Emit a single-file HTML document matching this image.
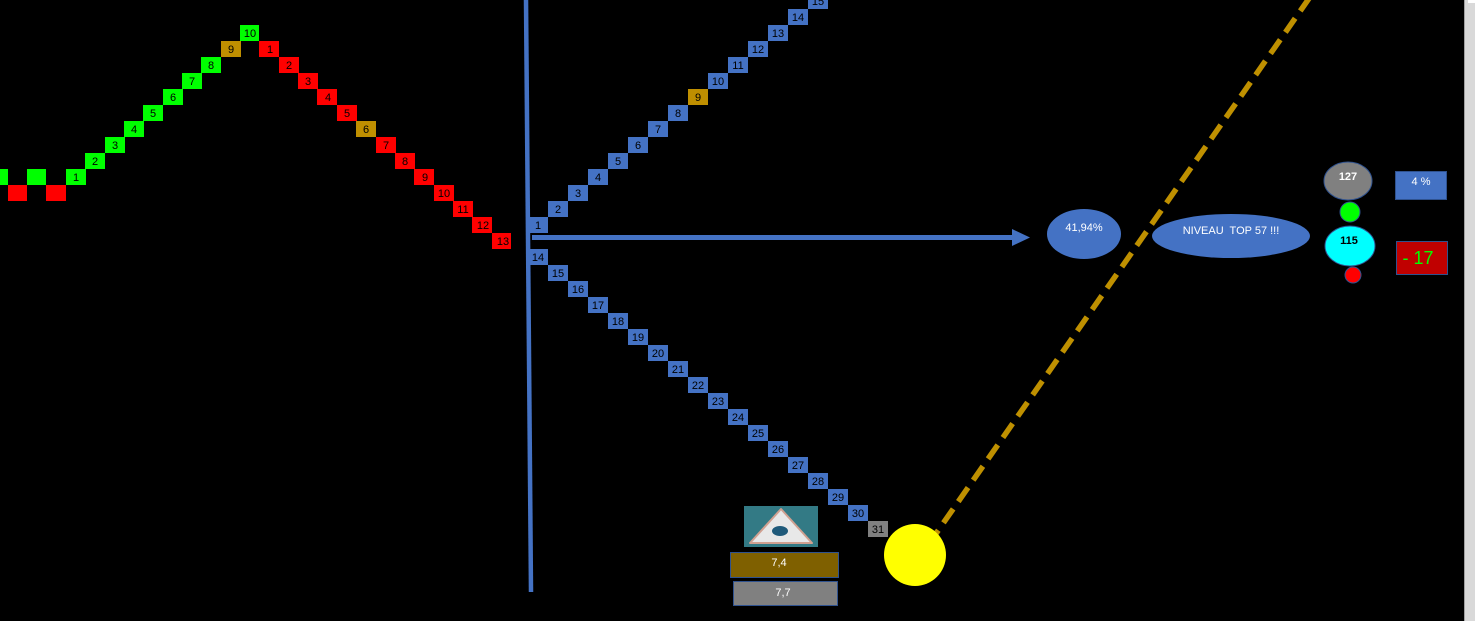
<!DOCTYPE html>
<html><head><meta charset="utf-8"><style>
html,body{margin:0;padding:0;background:#000;width:1475px;height:621px;overflow:hidden}
svg{display:block}
text{font-family:"Liberation Sans",sans-serif;font-size:11px;text-anchor:middle;dominant-baseline:central}
</style></head><body>
<svg width="1475" height="621" viewBox="0 0 1475 621">
<rect width="1475" height="621" fill="#000"/>
<rect x="1464" y="0" width="1" height="621" fill="#a0a0a0"/>
<rect x="1465" y="0" width="10" height="621" fill="#d9d9d9"/>
<rect x="1468" y="0" width="7" height="3" fill="#fff"/>
<rect x="0" y="169" width="8" height="16" fill="#00ff00"/>
<rect x="8" y="185" width="19" height="16" fill="#ff0000"/>
<rect x="27" y="169" width="19" height="16" fill="#00ff00"/>
<rect x="46" y="185" width="20" height="16" fill="#ff0000"/>
<line x1="526" y1="0" x2="531" y2="592" stroke="#4472c4" stroke-width="4.5"/>
<rect x="532" y="235" width="482" height="5" fill="#4472c4"/>
<polygon points="1012,229 1030,237.5 1012,246" fill="#4472c4"/>
<line x1="1310" y1="-3" x2="935" y2="535" stroke="#bf9000" stroke-width="5.5" stroke-dasharray="17,9"/>
<circle cx="915" cy="555" r="31" fill="#ffff00"/>
<ellipse cx="1084" cy="234" rx="37" ry="25" fill="#4472c4"/>
<text x="1084" y="228" fill="#fff">41,94%</text>
<ellipse cx="1231" cy="236" rx="79" ry="22" fill="#4472c4"/>
<text x="1231" y="231" fill="#fff">NIVEAU&#160; TOP 57 !!!</text>
<ellipse cx="1348" cy="181" rx="24" ry="19" fill="#808080" stroke="#2f528f"/>
<text x="1348" y="177" fill="#fff" font-weight="bold">127</text>
<circle cx="1350" cy="212" r="10" fill="#00ff00" stroke="#2f528f"/>
<ellipse cx="1350" cy="246" rx="25" ry="20" fill="#00ffff" stroke="#2f528f"/>
<text x="1349" y="241" fill="#000" font-weight="bold">115</text>
<circle cx="1353" cy="275" r="8" fill="#ff0000" stroke="#2f528f"/>
<rect x="1395.5" y="171.5" width="51" height="28" fill="#4472c4" stroke="#2f528f"/>
<text x="1421" y="182" fill="#fff">4 %</text>
<rect x="1396.5" y="241.5" width="51" height="33" fill="#c00000" stroke="#2f528f"/>
<text x="1418" y="258" fill="#00ff00" style="font-size:18px">- 17</text>
<rect x="744" y="506" width="74" height="41" fill="#2a6a80"/>
<rect x="744" y="506" width="74" height="41" fill="#3b8a8a" opacity="0.5"/>
<polygon points="781,509 812,543 750,543" fill="#e8e8e8" stroke="#d0a090" stroke-linejoin="round" stroke-width="2"/>
<ellipse cx="780" cy="531" rx="8" ry="5" fill="#1f5a7a"/>
<rect x="730.5" y="552.5" width="108" height="25" fill="#7f6000" stroke="#2f528f"/>
<text x="779" y="563" fill="#fff">7,4</text>
<rect x="733.5" y="581.5" width="104" height="24" fill="#808080" stroke="#2f528f"/>
<text x="783" y="593" fill="#fff">7,7</text>
<g>
<rect x="66" y="169" width="20" height="16" fill="#00ff00"/><text x="76" y="178">1</text>
<rect x="85" y="153" width="20" height="16" fill="#00ff00"/><text x="95" y="162">2</text>
<rect x="105" y="137" width="20" height="16" fill="#00ff00"/><text x="115" y="146">3</text>
<rect x="124" y="121" width="20" height="16" fill="#00ff00"/><text x="134" y="130">4</text>
<rect x="143" y="105" width="20" height="16" fill="#00ff00"/><text x="153" y="114">5</text>
<rect x="163" y="89" width="20" height="16" fill="#00ff00"/><text x="173" y="98">6</text>
<rect x="182" y="73" width="20" height="16" fill="#00ff00"/><text x="192" y="82">7</text>
<rect x="201" y="57" width="20" height="16" fill="#00ff00"/><text x="211" y="66">8</text>
<rect x="221" y="41" width="20" height="16" fill="#bf8f00"/><text x="231" y="50">9</text>
<rect x="240" y="25" width="19" height="16" fill="#00ff00"/><text x="250" y="34">10</text>
<rect x="259" y="41" width="20" height="16" fill="#ff0000"/><text x="270" y="50">1</text>
<rect x="279" y="57" width="20" height="16" fill="#ff0000"/><text x="289" y="66">2</text>
<rect x="298" y="73" width="20" height="16" fill="#ff0000"/><text x="308" y="82">3</text>
<rect x="317" y="89" width="20" height="16" fill="#ff0000"/><text x="328" y="98">4</text>
<rect x="337" y="105" width="20" height="16" fill="#ff0000"/><text x="347" y="114">5</text>
<rect x="356" y="121" width="20" height="16" fill="#bf8f00"/><text x="366" y="130">6</text>
<rect x="376" y="137" width="20" height="16" fill="#ff0000"/><text x="386" y="146">7</text>
<rect x="395" y="153" width="20" height="16" fill="#ff0000"/><text x="405" y="162">8</text>
<rect x="414" y="169" width="20" height="16" fill="#ff0000"/><text x="425" y="178">9</text>
<rect x="434" y="185" width="20" height="16" fill="#ff0000"/><text x="444" y="194">10</text>
<rect x="453" y="201" width="20" height="16" fill="#ff0000"/><text x="463" y="210">11</text>
<rect x="472" y="217" width="20" height="16" fill="#ff0000"/><text x="483" y="226">12</text>
<rect x="492" y="233" width="19" height="16" fill="#ff0000"/><text x="503" y="242">13</text>
</g>
<g id="blue"></g>
</svg>
<script>
var ns="http://www.w3.org/2000/svg",g=document.getElementById("blue");
function cell(x,y,c,t){var r=document.createElementNS(ns,"rect");r.setAttribute("x",x);r.setAttribute("y",y);r.setAttribute("width",20);r.setAttribute("height",16);r.setAttribute("fill",c);g.appendChild(r);
var tx=document.createElementNS(ns,"text");tx.setAttribute("x",x+10);tx.setAttribute("y",y+9);tx.textContent=t;g.appendChild(tx);}
for(var n=1;n<=15;n++){cell(528+20*(n-1),217-16*(n-1),n==9?"#bf8f00":"#4472c4",n);}
for(var n=14;n<=31;n++){cell(528+20*(n-14),249+16*(n-14),n==31?"#808080":"#4472c4",n);}
</script>
</body></html>
